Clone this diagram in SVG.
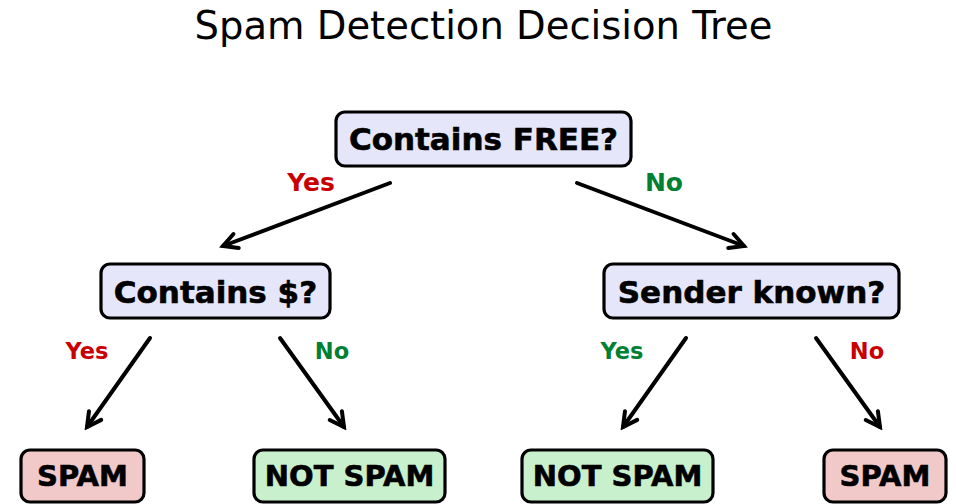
<svg xmlns="http://www.w3.org/2000/svg" width="956" height="504" viewBox="0 0 956 504">
  <style>
    .title { font-family: "DejaVu Sans", sans-serif; font-size: 38.5px; fill: #000; text-anchor: middle; }
    .box { stroke: #000; stroke-width: 3.2; }
    .q { fill: #e6e6fa; }
    .spam { fill: #f2c9c9; }
    .ham { fill: #c8f0cc; }
    .qt { font-family: "DejaVu Sans", sans-serif; font-weight: bold; font-size: 31px; fill: #000; stroke: #000; stroke-width: 0.6; text-anchor: middle; }
    .lt { font-family: "DejaVu Sans", sans-serif; font-weight: bold; font-size: 29px; fill: #000; stroke: #000; stroke-width: 0.6; text-anchor: middle; }
    .lbl { font-family: "DejaVu Sans", sans-serif; font-weight: bold; text-anchor: middle; }
    .big { font-size: 25px; }
    .small { font-size: 22.5px; }
    .red { fill: #c80000; }
    .green { fill: #008033; }
    .edge { stroke: #000; stroke-width: 4; fill: none; stroke-linecap: round; marker-end: url(#head); }
  </style>
  <defs>
    <marker id="head" markerUnits="userSpaceOnUse" viewBox="-18 -11 22 22" markerWidth="22" markerHeight="22" refX="0" refY="0" orient="auto">
      <path d="M-14,-7.5 L0,0 L-14,7.5" fill="none" stroke="#000" stroke-width="4" stroke-linecap="round" stroke-linejoin="miter"/>
    </marker>
  </defs>

  <rect width="956" height="504" fill="#fff"/>
  <text class="title" x="483.5" y="39">Spam Detection Decision Tree</text>

  <g id="connectors">
    <line class="edge" x1="390" y1="183" x2="223" y2="246"/>
    <line class="edge" x1="577" y1="183" x2="744" y2="246"/>
    <line class="edge" x1="150" y1="338" x2="87" y2="427"/>
    <line class="edge" x1="280" y1="338" x2="344" y2="427"/>
    <line class="edge" x1="686" y1="338" x2="623" y2="427"/>
    <line class="edge" x1="816" y1="338" x2="880" y2="427"/>
    <text class="lbl big red" x="311" y="191">Yes</text>
    <text class="lbl big green" x="664" y="191">No</text>
    <text class="lbl small red" x="87" y="359">Yes</text>
    <text class="lbl small green" x="332" y="359">No</text>
    <text class="lbl small green" x="622" y="359">Yes</text>
    <text class="lbl small red" x="867" y="359">No</text>
  </g>

  <g id="root">
    <rect class="box q" x="336" y="112" width="295" height="54" rx="9"/>
    <text class="qt" x="483.5" y="149.5">Contains FREE?</text>
  </g>
  <g id="dollar">
    <rect class="box q" x="101" y="264" width="229" height="54" rx="9"/>
    <text class="qt" x="215.5" y="303">Contains $?</text>
  </g>
  <g id="sender">
    <rect class="box q" x="604" y="264" width="295" height="54" rx="9"/>
    <text class="qt" x="751.5" y="303">Sender known?</text>
  </g>
  <g id="leaf-spam-1">
    <rect class="box spam" x="21" y="450" width="123" height="52" rx="9"/>
    <text class="lt" x="82.5" y="486">SPAM</text>
  </g>
  <g id="leaf-ham-1">
    <rect class="box ham" x="254" y="450" width="191" height="52" rx="9"/>
    <text class="lt" x="349.5" y="486">NOT SPAM</text>
  </g>
  <g id="leaf-ham-2">
    <rect class="box ham" x="522" y="450" width="191" height="52" rx="9"/>
    <text class="lt" x="617.5" y="486">NOT SPAM</text>
  </g>
  <g id="leaf-spam-2">
    <rect class="box spam" x="824" y="450" width="122" height="52" rx="9"/>
    <text class="lt" x="885" y="486">SPAM</text>
  </g>
</svg>
